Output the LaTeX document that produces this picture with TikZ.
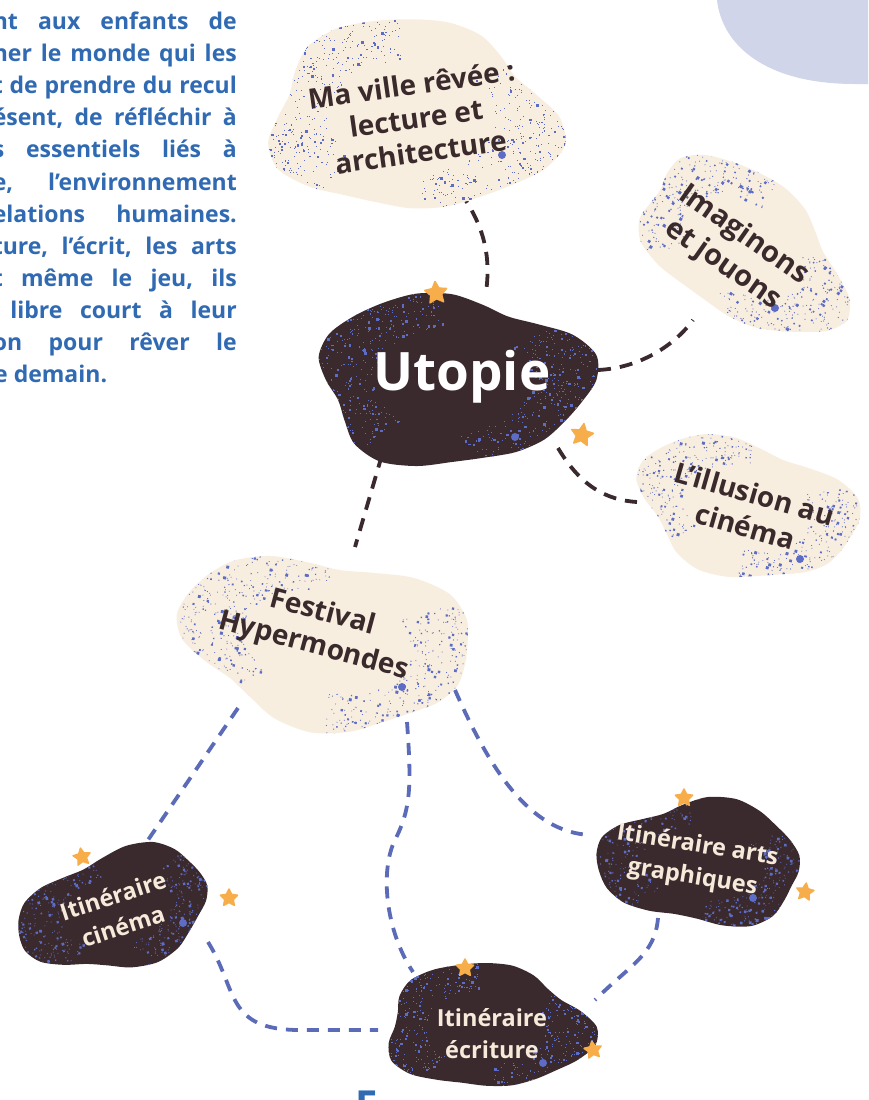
\documentclass[tikz,border=0pt]{standalone}
\usepackage{fontspec}
\setmainfont{Open Sans}
\usetikzlibrary{shapes.geometric}
\definecolor{cream}{HTML}{F8EEE0}
\definecolor{dark}{HTML}{3B2A2D}
\definecolor{speck}{HTML}{5D6CC4}
\definecolor{starorange}{HTML}{F6AD4A}
\definecolor{bodyblue}{HTML}{2F6AB3}
\definecolor{lavender}{HTML}{D0D5EA}
\definecolor{linkblue}{HTML}{5B6BB8}
\definecolor{ink}{HTML}{3A2A2C}
\definecolor{palecream}{HTML}{F6EBDA}
\tikzset{
  para/.style={font=\bfseries\fontsize{23}{24}\selectfont, text=bodyblue, inner sep=0},
  lighttext/.style={font=\bfseries\fontsize{28}{34}\selectfont, text=ink, align=center, inner sep=0},
  darktext/.style={font=\bfseries\fontsize{23.5}{32}\selectfont, text=palecream, align=center, inner sep=0},
  starnode/.style={star, star points=5, star point ratio=2.0, fill=starorange, draw=starorange, line width=1.5pt, line join=round, inner sep=0, minimum size=#1},
  starnode/.default=18pt,
  darklink/.style={draw=dark, line width=3.8pt, dash pattern=on 13pt off 9pt},
  bluelink/.style={draw=linkblue, line width=3.8pt, dash pattern=on 12pt off 9pt},
  bigdot/.style={circle, fill=speck, inner sep=0, minimum size=8pt},
}
\newcommand\blobplot[5]{plot[smooth cycle,domain=0:345,samples=24,variable=\t]({#1+#3*(1+0.08*sin(3*\t+#5)+0.05*sin(5*\t+1.7*#5)+0.03*sin(2*\t+0.5*#5))*cos(\t)},{#2+#4*(1+0.08*sin(3*\t+#5)+0.05*sin(5*\t+1.7*#5)+0.03*sin(2*\t+0.5*#5))*sin(\t)})}
\newcommand\myspeckles[6]{%
  \pgfmathsetseed{#5}%
  \foreach \k in {1,...,#6}{%
    \pgfmathsetmacro\myside{rnd}%
    \pgfmathsetmacro\myang{\myside<0.5 ? 130+135*rnd : -40+125*rnd}%
    \pgfmathsetmacro\myrad{1.22-0.62*rnd^1.8}%
    \pgfmathsetmacro\mydot{0.8+2.2*rnd^5}%
    \fill[speck] ({#1+#3*\myrad*cos(\myang)},{#2+#4*\myrad*sin(\myang)}) rectangle ++(\mydot,\mydot);
  }}
% cx cy rx ry rot phase fill seed count
\newcommand\mycloud[9]{%
  \begin{scope}[rotate around={#5:(#1,#2)}]
    \fill[#7] \blobplot{#1}{#2}{#3}{#4}{#6};
    \begin{scope}
      \clip \blobplot{#1}{#2}{#3}{#4}{#6};
      \myspeckles{#1}{#2}{#3}{#4}{#8}{#9}
    \end{scope}
  \end{scope}}
\begin{document}
\begin{tikzpicture}[x=1pt,y=-1pt]
\useasboundingbox (0,0) rectangle (868,1100);
\clip (0,0) rectangle (868,1100);
\fill[white] (0,0) rectangle (868,1100);

% lavender corner shape
\fill[lavender] (717,0) .. controls (722,45) and (765,84) .. (855,84) -- (868,84) -- (868,0) -- cycle;

% paragraph fragments
\node[para, anchor=base east] (p1) at (237,29) {\hbox to 244pt{nt\hfill aux\hfill enfants\hfill de}};
\node[para, anchor=base east] (p2) at (237,61) {\hbox to 244pt{ner\hfill le\hfill monde\hfill qui\hfill les}};
\node[para, anchor=base east] (p3) at (237,93) {\hbox to 244pt{t\hfill de\hfill prendre\hfill du\hfill recul}};
\node[para, anchor=base east] (p4) at (237,125) {\hbox to 244pt{ésent,\hfill de\hfill réfléchir\hfill à}};
\node[para, anchor=base east] (p5) at (237,157) {\hbox to 244pt{s\hfill essentiels\hfill liés\hfill à}};
\node[para, anchor=base east] (p6) at (237,190) {\hbox to 244pt{e,\hfill l’environnement}};
\node[para, anchor=base east] (p7) at (237,222) {\hbox to 244pt{elations\hfill humaines.}};
\node[para, anchor=base east] (p8) at (237,254) {\hbox to 244pt{ture,\hfill l’écrit,\hfill les\hfill arts}};
\node[para, anchor=base east] (p9) at (237,286) {\hbox to 244pt{t\hfill même\hfill le\hfill jeu,\hfill ils}};
\node[para, anchor=base east] (p10) at (237,318) {\hbox to 244pt{\hfill libre\hfill court\hfill à\hfill leur}};
\node[para, anchor=base east] (p11) at (237,350) {\hbox to 244pt{on\hfill pour\hfill rêver\hfill le}};
\node[para, anchor=base west] (p12) at (-6,382) {e demain.};

% bottom heading fragment
\node[font=\bfseries\fontsize{40}{40}\selectfont, text=bodyblue, anchor=north west, inner sep=0] (head) at (355,1091) {E};

% connector end points
\coordinate (ma-s) at (460,192);
\coordinate (ut-n) at (486,292);
\coordinate (ut-e) at (598,370);
\coordinate (im-sw) at (693,320);
\coordinate (ut-se) at (558,448);
\coordinate (il-w) at (637,502);
\coordinate (ut-sw) at (382,455);
\coordinate (fe-n) at (355,547);
\coordinate (fe-sw) at (238,708);
\coordinate (ci-ne) at (148,840);
\coordinate (fe-s) at (407,722);
\coordinate (ec-nw) at (413,972);
\coordinate (fe-se) at (455,690);
\coordinate (ar-w) at (590,835);
\coordinate (ci-se) at (208,942);
\coordinate (ec-w) at (378,1030);
\coordinate (ar-s) at (658,918);
\coordinate (ec-ne) at (595,1000);

% connectors
\draw[darklink] (ma-s) .. controls (480,220) and (492,250) .. (ut-n);
\draw[darklink] (ut-e) .. controls (640,368) and (675,345) .. (im-sw);
\draw[darklink] (ut-se) .. controls (580,485) and (605,500) .. (il-w);
\draw[darklink] (ut-sw) -- (fe-n);
\draw[bluelink] (fe-sw) -- (ci-ne);
\draw[bluelink] (fe-s) .. controls (412,790) and (410,810) .. (395,840) .. controls (380,870) and (385,930) .. (ec-nw);
\draw[bluelink] (fe-se) .. controls (490,770) and (530,832) .. (ar-w);
\draw[bluelink] (ci-se) .. controls (238,990) and (225,1030) .. (300,1030) -- (ec-w);
\draw[bluelink] (ar-s) .. controls (655,955) and (630,965) .. (ec-ne);

% clouds
\mycloud{411}{117}{140}{95}{0}{20}{cream}{11}{1300}
\mycloud{743}{247}{112}{70}{-35}{70}{cream}{12}{900}
\mycloud{452}{380}{132}{86}{0}{110}{dark}{13}{1300}
\mycloud{746}{508}{108}{68}{-15}{160}{cream}{14}{900}
\mycloud{327}{641}{142}{85}{-10}{200}{cream}{15}{1300}
\mycloud{116}{910}{95}{58}{15}{250}{dark}{16}{850}
\mycloud{702}{863}{100}{62}{-5}{300}{dark}{17}{850}
\mycloud{486}{1027}{100}{62}{0}{40}{dark}{18}{850}

% big dots
\node[bigdot] (d1) at (502,155) {};
\node[bigdot] (d2) at (775,308) {};
\node[bigdot] (d3) at (515,437) {};
\node[bigdot] (d4) at (800,559) {};
\node[bigdot] (d5) at (402,687) {};
\node[bigdot] (d6) at (183,923) {};
\node[bigdot] (d7) at (753,898) {};
\node[bigdot] (d8) at (543,1063) {};

% labels
\node[lighttext, rotate=8] (ma) at (416,118) {Ma ville rêvée :\\lecture et\\architecture};
\node[lighttext, rotate=-35, font=\bfseries\fontsize{29}{36}\selectfont] (im) at (733,250) {Imaginons\\et jouons};
\node[font=\bfseries\fontsize{53}{53}\selectfont, text=white, inner sep=0] (ut) at (462,377) {Utopie};
\node[lighttext, rotate=-16] (il) at (750,510) {L’illusion au\\cinéma};
\node[lighttext, rotate=-15] (fe) at (318,630) {Festival\\Hypermondes};
\node[darktext, rotate=18] (ci) at (118,911) {Itinéraire\\cinéma};
\node[darktext, rotate=-9] (ar) at (695,862) {Itinéraire arts\\graphiques};
\node[darktext] (ec) at (492,1034) {Itinéraire\\écriture};

% stars
\node[starnode=23pt, rotate=5] (s1) at (436,293) {};
\node[starnode=23pt, rotate=-10] (s2) at (582,435) {};
\node[starnode, rotate=10] (s3) at (82,857) {};
\node[starnode] (s4) at (229,898) {};
\node[starnode] (s5) at (684,798) {};
\node[starnode, rotate=-8] (s6) at (805,892) {};
\node[starnode] (s7) at (465,968) {};
\node[starnode, rotate=8] (s8) at (593,1050) {};
\end{tikzpicture}
\end{document}
